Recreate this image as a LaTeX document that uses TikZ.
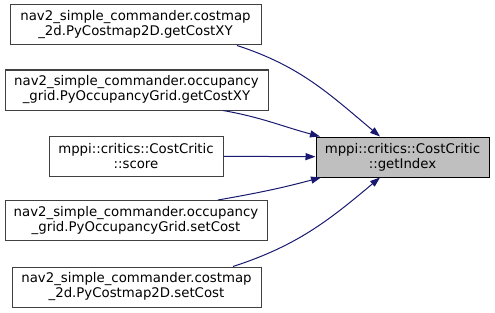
\documentclass[tikz,border=0pt]{standalone}
\usepackage{fontspec}
\setmainfont{DejaVu Sans}
\usetikzlibrary{arrows.meta}
\definecolor{edgeblue}{RGB}{25,25,112}
\definecolor{boxline}{RGB}{64,64,64}
\definecolor{boxfill}{RGB}{191,191,191}
\tikzset{
  caller/.style={rectangle, draw=boxline, fill=white, line width=1pt, minimum height=40pt, inner sep=0pt, align=center, font=\fontsize{13.3}{15}\selectfont},
  callee/.style={rectangle, draw=black, fill=boxfill, line width=1pt, minimum height=40pt, inner sep=0pt, align=center, font=\fontsize{13.3}{15}\selectfont},
  callarrow/.style={edgeblue, line width=1pt, -{Triangle[length=10pt,width=7pt]}}
}
\begin{document}
\begin{tikzpicture}[x=1pt, y=-1pt]
  \useasboundingbox (0,0) rectangle (495,313);

  \node[callee, minimum width=173pt] (idx) at (402.5,157) {mppi::critics::CostCritic\\::getIndex};

  \node[caller, minimum width=251pt] (cmxy) at (135.5,25) {nav2\_simple\_commander.costmap\\\_2d.PyCostmap2D.getCostXY};
  \node[caller, minimum width=263pt] (ogxy) at (136.5,90) {nav2\_simple\_commander.occupancy\\\_grid.PyOccupancyGrid.getCostXY};
  \node[caller, minimum width=174pt] (score) at (136,156) {mppi::critics::CostCritic\\::score};
  \node[caller, minimum width=262pt] (ogset) at (136,220.5) {nav2\_simple\_commander.occupancy\\\_grid.PyOccupancyGrid.setCost};
  \node[caller, minimum width=249pt] (cmset) at (136.5,287) {nav2\_simple\_commander.costmap\\\_2d.PyCostmap2D.setCost};

  \draw[callarrow] ([xshift=101.5pt]cmxy.south) to[out=-18, in=140] ([xshift=-22.5pt]idx.north);
  \draw[callarrow] ([xshift=86.5pt]ogxy.south) to[out=-10, in=165] ([xshift=-82.5pt]idx.north);
  \draw[callarrow] (score) -- (idx);
  \draw[callarrow] ([xshift=82pt]ogset.north) to[out=10, in=195] ([xshift=-81.5pt]idx.south);
  \draw[callarrow] ([xshift=96.5pt]cmset.north) to[out=18, in=220] ([xshift=-22.5pt]idx.south);
\end{tikzpicture}
\end{document}
